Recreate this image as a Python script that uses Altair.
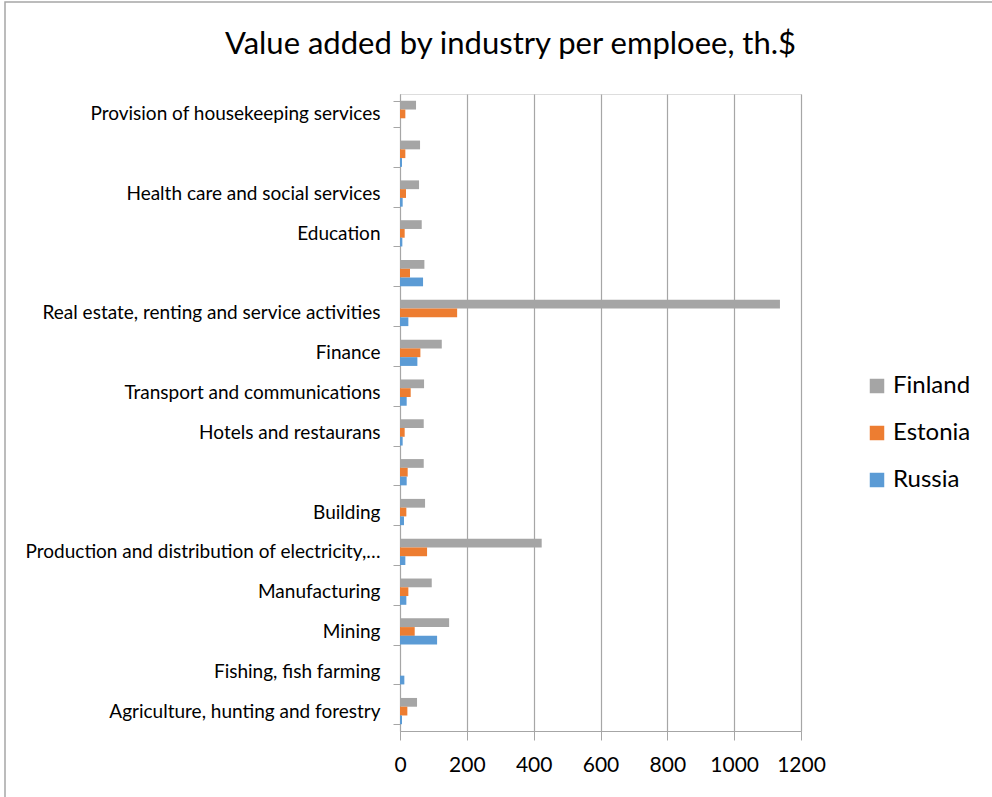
import altair as alt
import pandas as pd

NB = "\u00a0"
industries = [
    "Provision of housekeeping services" + NB,
    "Other community, social and personal services",
    "Health care and social services" + NB,
    "Education",
    "Public administration and defence",
    "Real estate, renting and service activities",
    "Finance",
    "Transport and communications" + NB,
    "Hotels and restaurans" + NB,
    "Wholesale and retail trade",
    "Building",
    "Production and distribution of electricity,\u2026",
    "Manufacturing",
    "Mining",
    "Fishing, fish farming",
    "Agriculture, hunting and forestry",
]
hidden_labels = [
    "Other community, social and personal services",
    "Public administration and defence",
    "Wholesale and retail trade",
]
countries = ["Finland", "Estonia", "Russia"]
colors = ["#A5A5A5", "#ED7D31", "#5B9BD5"]

finland = [48, 60, 57, 65, 73, 1137, 125, 72, 71, 71, 75, 424, 95, 147, 0, 51]
estonia = [16, 16, 18, 14, 30, 171, 61, 32, 14, 23, 19, 81, 25, 44, 0, 22]
russia = [0, 6, 8, 7, 69, 25, 52, 20, 8, 20, 12, 16, 19, 111, 13, 6]

x_ticks = [0, 200, 400, 600, 800, 1000, 1200]

rows = []
for i, ind in enumerate(industries):
    for c, vals in zip(countries, [finland, estonia, russia]):
        rows.append({"industry": ind, "country": c, "value": vals[i]})
df = pd.DataFrame(rows)

FONT = "Lato"
GRID = "#A6A6A6"

hide_expr = " || ".join([f"datum.label == '{h}'" for h in hidden_labels])

bars = alt.Chart(df).mark_bar().encode(
    y=alt.Y(
        "industry:N",
        sort=industries,
        scale=alt.Scale(paddingInner=0.34, paddingOuter=0.17),
        axis=alt.Axis(
            title=None,
            labelFont=FONT,
            labelFontSize=19,
            labelColor="#000000",
            labelPadding=13,
            labelLimit=600,
            labelExpr=f"({hide_expr}) ? '' : datum.label",
            tickBand="extent",
            tickSize=7,
            tickColor=GRID,
            domainColor=GRID,
            grid=False,
        ),
    ),
    yOffset=alt.YOffset("country:N", sort=countries),
    x=alt.X(
        "value:Q",
        scale=alt.Scale(domain=[0, 1200], nice=False),
        axis=alt.Axis(
            title=None,
            values=x_ticks,
            format="d",
            labelOverlap=False,
            labelFlush=False,
            labelFont=FONT,
            labelFontSize=21,
            labelColor="#000000",
            labelPadding=14,
            tickSize=9,
            tickColor=GRID,
            domainColor=GRID,
            grid=True,
            gridColor=GRID,
            gridWidth=1.2,
        ),
    ),
    color=alt.Color(
        "country:N",
        sort=countries,
        scale=alt.Scale(domain=countries, range=colors),
        legend=alt.Legend(
            title=None,
            orient="none",
            legendX=465,
            legendY=280,
            symbolType="square",
            symbolSize=210,
            symbolStrokeWidth=0,
            labelFont=FONT,
            labelFontSize=24,
            labelColor="#000000",
            labelOffset=4,
            rowPadding=23,
        ),
    ),
)

border = alt.Chart(pd.DataFrame({"k": [0]})).mark_rect(
    fill=None, stroke="#A6A6A6", strokeWidth=1.5
).encode(
    x=alt.value(-395), x2=alt.value(1500), y=alt.value(-92), y2=alt.value(1200)
)

chart = alt.layer(border, bars).properties(
    width=401,
    height=637,
    title=alt.TitleParams(
        "Value added by industry per emploee, th.$",
        font=FONT,
        fontSize=31,
        fontWeight="normal",
        color="#000000",
        anchor="middle",
        frame="group",
        dx=-90,
        offset=30,
        dy=90,
    ),
    autosize=alt.AutoSizeParams(type="none"),
    padding={"left": 400, "top": 94, "right": 191, "bottom": 66},
).configure_view(stroke=None).configure(background="#FFFFFF")

chart.save("out.html", embed_options={"renderer": "svg", "actions": False})
